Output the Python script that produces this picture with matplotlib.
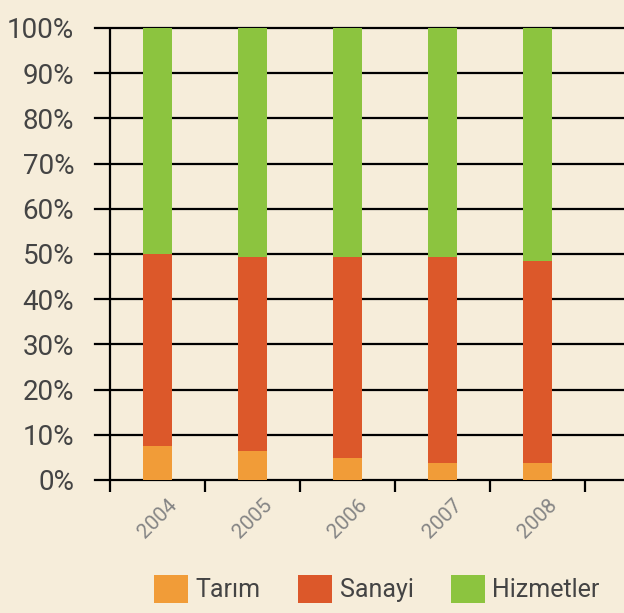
import matplotlib
matplotlib.use("Agg")
import matplotlib.pyplot as plt
from matplotlib.patches import Patch

years = ["2004", "2005", "2006", "2007", "2008"]
tarim = [7.6, 6.4, 4.9, 3.8, 3.8]
sanayi = [42.4, 43.0, 44.5, 45.5, 44.7]
hizmetler = [100 - t - s for t, s in zip(tarim, sanayi)]
series = ["Tarım", "Sanayi", "Hizmetler"]
y_ticks = [0, 10, 20, 30, 40, 50, 60, 70, 80, 90, 100]

bg = "#F6EDDA"
colors = ["#F19C38", "#DC582A", "#8CC43F"]
txt = "#444444"

plt.rcParams["font.family"] = ["Roboto", "DejaVu Sans"]

fig = plt.figure(figsize=(6.24, 6.13), dpi=100, facecolor=bg)
W, H = 624, 613
ax = fig.add_axes([95 / W, (H - 480) / H, (W - 95) / W, (480 - 28) / H])
ax.set_facecolor(bg)

x = list(range(len(years)))
bw = 0.295
bottoms = [0] * len(years)
for vals, c in zip([tarim, sanayi, hizmetler], colors):
    ax.bar(x, vals, bw, bottom=bottoms, color=c, zorder=3)
    bottoms = [b + v for b, v in zip(bottoms, vals)]

ax.set_ylim(0, 100)
ax.set_xlim(-0.5 - 15 / 95, len(years) - 0.5 + 39 / 95)
ax.set_yticks(y_ticks)
ax.set_yticklabels([f"{v}%" for v in y_ticks], fontsize=20, color=txt)
ax.tick_params(axis="y", length=0, pad=15)
ax.yaxis.grid(True, color="black", linewidth=1.6, zorder=1)
for gl in ax.get_ygridlines():
    gl.set_clip_on(False)
ax.axvline(-0.5, color="black", linewidth=1.6, zorder=2)

ax.set_xticks(x)
ax.set_xticklabels(years, rotation=45, ha="center", va="top",
                   fontsize=15, color="#858585")
ax.tick_params(axis="x", length=0, pad=11)
ax.set_xticks([i - 0.5 for i in range(len(years) + 1)], minor=True)
ax.tick_params(axis="x", which="minor", length=8.6, width=1.6,
               color="black", direction="out")

for s in ax.spines.values():
    s.set_visible(False)

handles = [Patch(facecolor=c, edgecolor="none") for c in colors]
fig.legend(handles, series, loc="center", bbox_to_anchor=(377 / W, 1 - 589 / H),
           ncol=3, frameon=False, fontsize=18, handlelength=1.35,
           handleheight=1.35, handletextpad=0.3, columnspacing=1.5,
           labelcolor=txt, borderpad=0)

fig.savefig("out.png", dpi=100, facecolor=bg)
